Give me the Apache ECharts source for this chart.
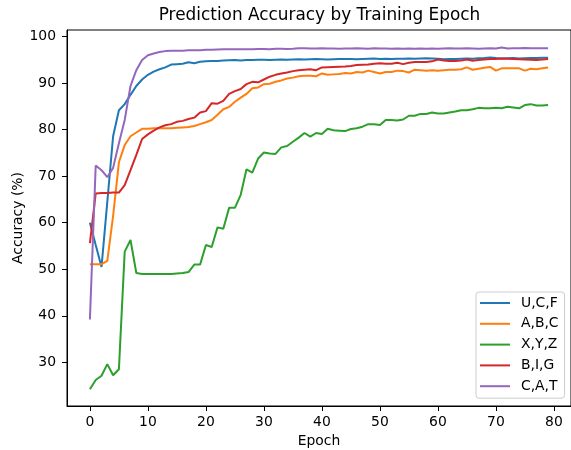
<!DOCTYPE html>
<html>
<head>
<meta charset="utf-8">
<script src="https://cdn.jsdelivr.net/npm/echarts@6/dist/echarts.min.js"></script>
<style>html,body{margin:0;padding:0;background:#fff;}#c{width:571px;height:450px;}</style>
</head>
<body>
<div id="c"></div>
<script>
const seriesNames = ['U,C,F', 'A,B,C', 'X,Y,Z', 'B,I,G', 'C,A,T'];
const epochs = Array.from({length: 80}, (_, i) => i);
const xTicks = [0, 10, 20, 30, 40, 50, 60, 70, 80];
const yTicks = [30, 40, 50, 60, 70, 80, 90, 100];

const ucf = [60.0,55.2,50.5,64.5,78.6,84.2,85.5,87.5,89.4,90.8,91.8,92.5,93.0,93.4,94.0,94.1,94.2,94.5,94.3,94.6,
94.7,94.75,94.8,94.9,94.95,95.0,94.9,95.0,95.0,95.05,95.05,95.0,95.05,95.1,95.05,95.1,95.15,95.1,95.15,95.2,
95.15,95.1,95.15,95.2,95.2,95.2,95.15,95.2,95.25,95.3,95.2,95.25,95.2,95.25,95.25,95.3,95.25,95.3,95.35,95.3,
95.25,95.15,95.2,95.2,95.25,95.3,95.25,95.35,95.4,95.55,95.4,95.3,95.35,95.4,95.3,95.35,95.4,95.4,95.45,95.45];
const abc = [51.1,51.1,51.1,51.8,61.5,73.0,76.7,78.6,79.4,80.2,80.2,80.3,80.3,80.3,80.3,80.4,80.5,80.6,80.8,81.2,
81.6,82.1,83.2,84.4,84.9,86.0,86.9,87.7,88.9,89.1,89.8,89.9,90.3,90.6,91.0,91.2,91.5,91.6,91.6,91.5,
92.1,91.8,91.9,92.0,92.2,92.1,92.4,92.3,92.7,92.4,92.1,92.4,92.4,92.7,92.6,92.3,92.9,92.8,92.7,92.8,
92.7,92.8,92.9,92.9,93.0,93.4,92.9,93.1,93.3,93.5,92.7,93.2,93.2,93.2,93.2,92.7,93.1,93.0,93.2,93.4];
const xyz = [24.2,26.2,27.1,29.6,27.2,28.5,53.8,56.3,49.2,49.0,49.0,49.0,49.0,49.0,49.0,49.1,49.2,49.4,51.0,51.0,
55.2,54.8,59.0,58.7,63.2,63.2,66.0,71.5,70.8,73.8,75.1,74.9,74.8,76.2,76.5,77.4,78.3,79.3,78.5,79.3,
79.1,80.2,79.9,79.8,79.7,80.15,80.3,80.65,81.2,81.2,81.0,82.1,82.1,82.0,82.2,83.0,83.0,83.4,83.4,83.7,
83.5,83.5,83.7,83.9,84.2,84.2,84.4,84.7,84.6,84.6,84.7,84.6,84.95,84.8,84.6,85.3,85.5,85.2,85.2,85.3];
const big = [55.6,66.3,66.4,66.4,66.5,66.5,68.1,71.3,74.6,78.0,79.0,79.8,80.5,80.95,81.2,81.7,81.9,82.3,82.6,83.7,
84.0,85.7,85.6,86.2,87.7,88.3,88.75,89.8,90.3,90.2,90.8,91.4,91.8,92.1,92.3,92.6,92.8,92.9,93.0,92.8,
93.4,93.45,93.5,93.55,93.6,93.7,93.9,93.95,94.0,94.2,94.3,94.2,94.2,94.4,94.1,94.4,94.55,94.55,94.55,94.7,
95.1,94.9,94.8,94.8,94.9,95.1,94.85,95.0,95.1,95.2,95.2,95.3,95.25,95.2,95.15,95.1,95.05,95.0,95.1,95.2];
const cat = [39.2,72.3,71.3,69.8,71.8,77.1,82.1,89.4,92.8,95.0,96.0,96.4,96.7,96.9,97.0,97.0,97.0,97.1,97.1,97.1,
97.2,97.2,97.25,97.3,97.3,97.3,97.3,97.3,97.3,97.35,97.35,97.3,97.4,97.4,97.35,97.4,97.5,97.5,97.45,97.45,
97.5,97.45,97.45,97.4,97.45,97.45,97.5,97.45,97.4,97.5,97.45,97.45,97.4,97.45,97.4,97.45,97.4,97.45,97.4,97.45,
97.4,97.45,97.5,97.45,97.45,97.5,97.45,97.4,97.45,97.5,97.45,97.7,97.45,97.5,97.5,97.55,97.5,97.5,97.5,97.5];

const allValues = [ucf, abc, xyz, big, cat];
const colors = ['#1f77b4', '#ff7f0e', '#2ca02c', '#d62728', '#9467bd'];

const FONT = 'DejaVu Sans';
const chart = echarts.init(document.getElementById('c'), null, {renderer: 'canvas'});
chart.setOption({
  animation: false,
  backgroundColor: '#ffffff',
  title: {
    text: 'Prediction Accuracy by Training Epoch',
    left: 319.5, top: 7, textAlign: 'center', padding: 0,
    textStyle: {fontFamily: FONT, fontSize: 16.9, fontWeight: 'normal', color: '#000'}
  },
  legend: {
    orient: 'vertical',
    left: 476, top: 292,
    data: seriesNames,
    icon: 'rect',
    itemWidth: 30, itemHeight: 2,
    itemGap: 6.8,
    padding: [4, 6, 5, 4],
    backgroundColor: 'rgba(255,255,255,0.8)',
    borderColor: '#cccccc', borderWidth: 1, borderRadius: 3,
    textStyle: {fontFamily: FONT, fontSize: 13.9, color: '#000', lineHeight: 14, padding: [0, 0, 0, 6]}
  },
  grid: {
    left: 67, right: 0, top: 30, bottom: 44,
    outerBoundsMode: 'none', containLabel: false,
    show: true, borderColor: '#000', borderWidth: 1, backgroundColor: 'transparent'
  },
  xAxis: {
    type: 'value', min: -3.95, max: 82.95,
    name: 'Epoch', nameLocation: 'middle', nameGap: 28, nameMoveOverlap: false,
    nameTextStyle: {fontFamily: FONT, fontSize: 13.9, color: '#000'},
    axisLine: {show: true, onZero: false, lineStyle: {color: '#000', width: 1}},
    axisTick: {show: true, length: 5, lineStyle: {color: '#000'}, customValues: xTicks},
    axisLabel: {fontFamily: FONT, fontSize: 13.9, color: '#000', margin: 9, customValues: xTicks},
    splitLine: {show: false}
  },
  yAxis: {
    type: 'value', min: 20.6, max: 101.44,
    name: 'Accuracy (%)', nameLocation: 'middle', nameGap: 42, nameMoveOverlap: false,
    nameTextStyle: {fontFamily: FONT, fontSize: 13.9, color: '#000'},
    axisLine: {show: true, onZero: false, lineStyle: {color: '#000', width: 1}},
    axisTick: {show: true, length: 5, lineStyle: {color: '#000'}, customValues: yTicks},
    axisLabel: {fontFamily: FONT, fontSize: 13.9, color: '#000', margin: 11, customValues: yTicks},
    splitLine: {show: false}
  },
  series: seriesNames.map((name, k) => ({
    name: name,
    type: 'line',
    data: epochs.map((e, i) => [e, allValues[k][i]]),
    symbol: 'none',
    lineStyle: {width: 2, color: colors[k]},
    itemStyle: {color: colors[k]},
    emphasis: {disabled: true}
  }))
});
</script>
</body>
</html>
